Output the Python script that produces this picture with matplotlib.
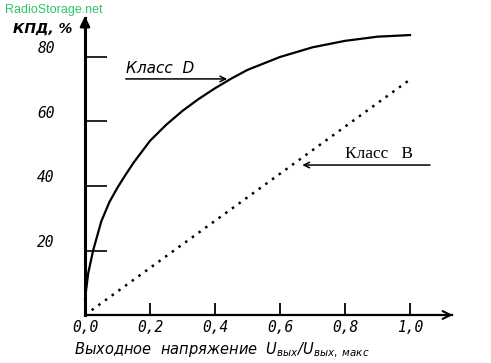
import matplotlib
matplotlib.use("Agg")
import matplotlib.pyplot as plt

# Класс D (КПД от выходного напряжения)
u_d = [0.0, 0.01, 0.025, 0.05, 0.075, 0.1, 0.125, 0.15, 0.2, 0.25, 0.3,
       0.35, 0.4, 0.45, 0.5, 0.6, 0.7, 0.8, 0.9, 1.0]
kpd_d = [5, 13, 20, 29, 35, 39.5, 43.5, 47.3, 54, 59, 63.3,
         67, 70.3, 73.3, 76, 80, 83, 85, 86.3, 86.8]

# Класс B (прямая)
u_b = [0.0, 1.0]
kpd_b = [0, 73]

xticks = [0.2, 0.4, 0.6, 0.8, 1.0]
xlabels_all = [0.0, 0.2, 0.4, 0.6, 0.8, 1.0]
yticks = [20, 40, 60, 80]

fig = plt.figure(figsize=(4.91, 3.63), dpi=100)
ax = fig.add_axes([0, 0, 1, 1])
ax.set_xlim(-0.2615, 1.2492)
ax.set_ylim(-14.88, 97.67)

# оси
for s in ['top', 'right']:
    ax.spines[s].set_visible(False)
ax.spines['left'].set_position(('data', 0))
ax.spines['bottom'].set_position(('data', 0))
ax.spines['left'].set_bounds(0, 92)
ax.spines['bottom'].set_bounds(0, 1.13)
ax.spines['left'].set_linewidth(2.2)
ax.spines['bottom'].set_linewidth(1.6)
ax.annotate('', xy=(0, 93.5), xytext=(0, 88),
            arrowprops=dict(arrowstyle='-|>', color='black', lw=2, mutation_scale=14))
ax.annotate('', xy=(1.14, 0), xytext=(1.10, 0),
            arrowprops=dict(arrowstyle='->', color='black', lw=1.5, mutation_scale=14))

ax.set_xticks(xticks)
ax.set_yticks(yticks)
ax.set_xticklabels([])
ax.set_yticklabels([])
ax.tick_params(axis='x', direction='in', length=9, width=1.3)
ax.tick_params(axis='y', direction='in', length=16, width=1.2)

# подписи делений
for v in xlabels_all:
    ax.text(v, -1.6, ('%.1f' % v).replace('.', ','), ha='center', va='top',
            family='DejaVu Sans Mono', style='italic', fontsize=10.5)
for v in yticks:
    ax.text(-0.12, v + 2.5, str(v), ha='center', va='center',
            family='DejaVu Sans Mono', style='italic', fontsize=10.5)

ax.text(-0.13, 88.8, 'КПД, %', ha='center', va='center',
        family='DejaVu Sans', style='italic', weight='bold', fontsize=10)

ax.text(0.42, -11.0, 'Выходное  напряжение  U$_{вых}$/U$_{вых,\\ макс}$',
        ha='center', va='center', style='italic', fontsize=10.5,
        family='DejaVu Sans')

# кривые
ax.plot(u_d, kpd_d, color='black', lw=1.6)
ax.plot(u_b, kpd_b, color='black', lw=1.8, linestyle=(0, (1, 2.3)))

# стрелки-выноски
ax.annotate('', xy=(0.446, 73.2), xytext=(0.117, 73.2),
            arrowprops=dict(arrowstyle='->', color='black', lw=1.1))
ax.text(0.125, 76.5, 'Класс  D', ha='left', va='center',
        family='DejaVu Sans', style='italic', fontsize=11)
ax.annotate('', xy=(0.66, 46.5), xytext=(1.07, 46.5),
            arrowprops=dict(arrowstyle='->', color='black', lw=1.1))
ax.text(0.80, 49.9, 'Класс   B', ha='left', va='center',
        family='Liberation Serif', fontsize=12.5)

fig.text(0.010, 0.990, 'RadioStorage.net', color='#2dc46a', fontsize=9,
         family='Liberation Sans', ha='left', va='top')

fig.savefig('out.png', dpi=100)
